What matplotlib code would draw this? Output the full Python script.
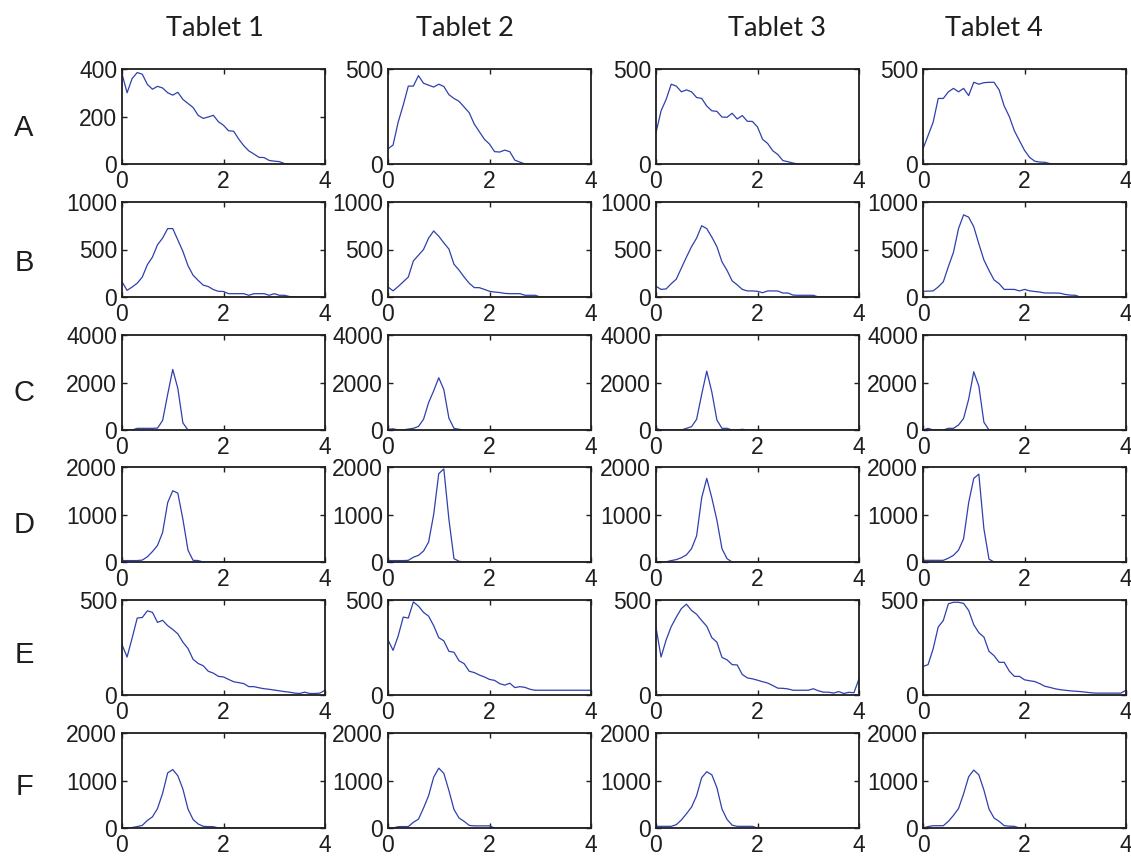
import numpy as np
import matplotlib
matplotlib.use("Agg")
import matplotlib.pyplot as plt

plt.rcParams["font.family"] = ["Liberation Sans", "DejaVu Sans"]

# ---------------- data ----------------
X = np.linspace(0, 4, 41)
tablets = ["Tablet 1", "Tablet 2", "Tablet 3", "Tablet 4"]
rows = ["A", "B", "C", "D", "E", "F"]

A_t1 = [380, 300, 360, 385, 378, 335, 315, 327, 320, 300,
        290, 302, 272, 255, 238, 205, 192, 198, 205, 178,
        163, 140, 138, 105, 77, 55, 42, 28, 27, 15,
        12, 10, 2]
A_t2 = [80, 100, 220, 310, 410, 410, 465, 425, 415, 405,
        420, 408, 365, 345, 330, 300, 270, 210, 170, 130,
        105, 65, 63, 73, 65, 20, 10]
A_t3 = [165, 280, 340, 420, 410, 380, 390, 380, 350, 345,
        305, 280, 277, 247, 246, 267, 237, 255, 225, 224,
        195, 130, 108, 70, 50, 18, 12, 5]
A_t4 = [80, 150, 220, 345, 345, 380, 398, 380, 398, 360,
        430, 420, 428, 430, 430, 390, 305, 250, 175, 123,
        72, 35, 15, 10, 9, 2]

B_t1 = [160, 70, 105, 145, 210, 340, 420, 550, 620, 720,
        720, 600, 480, 330, 230, 175, 125, 110, 78, 60,
        58, 35, 35, 35, 35, 18, 35, 35, 35, 18,
        35, 18, 18, 5]
B_t2 = [105, 65, 110, 160, 210, 380, 440, 500, 620, 695,
        640, 570, 505, 345, 283, 210, 145, 99, 98, 80,
        60, 52, 47, 38, 35, 35, 35, 18, 18, 18]
B_t3 = [113, 80, 85, 140, 188, 305, 420, 530, 620, 750,
        720, 630, 530, 370, 280, 170, 128, 80, 64, 64,
        60, 45, 64, 64, 63, 42, 42, 20, 18, 18,
        18, 18]
B_t4 = [60, 62, 64, 106, 160, 320, 470, 720, 865, 840,
        740, 560, 390, 280, 180, 140, 80, 80, 80, 64,
        80, 65, 58, 52, 42, 42, 42, 40, 27, 20,
        18]

C_t1 = [0, 0, 0, 70, 70, 70, 70, 80, 400, 1500,
        2550, 1750, 300]
C_t2 = [30, 50, 0, 0, 40, 70, 150, 450, 1150, 1650,
        2200, 1700, 500, 70, 30]
C_t3 = [70, 0, 0, 0, 0, 0, 70, 140, 450, 1500,
        2480, 1600, 420, 70, 70, 0, 0, 30]
C_t4 = [0, 70, 0, 0, 0, 70, 70, 210, 490, 1300,
        2450, 1850, 330]

D_t1 = [30, 30, 30, 30, 40, 110, 220, 350, 620, 1250,
        1500, 1450, 900, 250, 35, 30]
D_t2 = [30, 30, 30, 30, 35, 100, 140, 230, 420, 1000,
        1860, 1960, 900, 70, 15]
D_t3 = [0, 0, 5, 30, 50, 90, 150, 280, 550, 1350,
        1760, 1350, 880, 280, 70]
D_t4 = [35, 35, 35, 35, 35, 80, 140, 250, 490, 1250,
        1760, 1850, 700, 60]

E_t1 = [265, 200, 300, 405, 408, 443, 435, 382, 393, 365,
        345, 322, 278, 245, 188, 166, 154, 125, 115, 98,
        95, 82, 70, 65, 60, 44, 44, 38, 33, 30,
        26, 22, 18, 15, 10, 8, 15, 8, 8, 10, 25]
E_t2 = [290, 235, 310, 410, 405, 490, 468, 435, 415, 365,
        302, 285, 230, 225, 180, 165, 125, 118, 105, 95,
        82, 77, 60, 52, 62, 39, 44, 40, 30, 25,
        25, 25, 25, 25, 25, 25, 25, 25, 25, 25, 25]
E_t3 = [355, 200, 290, 360, 410, 455, 478, 445, 425, 392,
        362, 302, 278, 198, 185, 160, 158, 108, 90, 85,
        78, 70, 63, 50, 36, 35, 32, 25, 25, 25,
        25, 33, 22, 15, 15, 10, 18, 8, 14, 12, 85]
E_t4 = [150, 160, 243, 358, 392, 480, 488, 488, 482, 445,
        370, 328, 305, 230, 207, 172, 172, 126, 98, 98,
        80, 75, 71, 60, 46, 40, 33, 28, 25, 22,
        20, 18, 15, 12, 10, 10, 10, 10, 10, 10, 25]

F_t1 = [0, 0, 10, 30, 55, 160, 235, 410, 730, 1160,
        1230, 1100, 820, 400, 180, 85, 35, 30, 28]
F_t2 = [0, 0, 28, 30, 30, 120, 185, 420, 680, 1070,
        1260, 1150, 790, 390, 210, 140, 55, 45, 45, 45,
        45]
F_t3 = [35, 35, 35, 35, 70, 170, 300, 440, 680, 1060,
        1185, 1120, 850, 400, 180, 60, 35, 35, 35, 35]
F_t4 = [0, 30, 48, 48, 48, 140, 265, 410, 720, 1080,
        1220, 1120, 800, 400, 210, 140, 50, 38, 35]

ymax = {"A": [400, 500, 500, 500], "B": [1000] * 4, "C": [4000] * 4,
        "D": [2000] * 4, "E": [500] * 4, "F": [2000] * 4}
yticks = {"A": [[0, 200, 400], [0, 500], [0, 500], [0, 500]],
          "B": [[0, 500, 1000]] * 4, "C": [[0, 2000, 4000]] * 4,
          "D": [[0, 1000, 2000]] * 4, "E": [[0, 500]] * 4,
          "F": [[0, 1000, 2000]] * 4}
xticks = [0, 2, 4]

series = {"A": [A_t1, A_t2, A_t3, A_t4], "B": [B_t1, B_t2, B_t3, B_t4],
          "C": [C_t1, C_t2, C_t3, C_t4], "D": [D_t1, D_t2, D_t3, D_t4],
          "E": [E_t1, E_t2, E_t3, E_t4], "F": [F_t1, F_t2, F_t3, F_t4]}


def full(v):
    return list(v) + [0] * (len(X) - len(v))


# ---------------- layout ----------------
W, H = 1131, 856
fig = plt.figure(figsize=(W / 100, H / 100), dpi=100)
fig.patch.set_facecolor("white")

col_left = [122, 388, 656, 923]
ax_w = 203
ax_h = 95
row_top = [69, 202, 335, 467, 600, 733]

line_color = "#2f40ac"
ink = "#1e1e1e"

for r, rname in enumerate(rows):
    for c in range(4):
        left = col_left[c] / W
        bottom = 1 - (row_top[r] + ax_h) / H
        ax = fig.add_axes([left, bottom, ax_w / W, ax_h / H])
        ax.plot(X, full(series[rname][c]), color=line_color, lw=0.9)
        ax.set_xlim(0, 4)
        ax.set_ylim(0, ymax[rname][c])
        ax.set_xticks(xticks)
        ax.set_yticks(yticks[rname][c])
        ax.tick_params(direction="in", length=3.5, width=1.0,
                       top=True, right=True, labelsize=16.5,
                       colors=ink)
        ax.tick_params(axis="x", pad=4.5)
        ax.tick_params(axis="y", pad=3.5)
        for sp in ax.spines.values():
            sp.set_linewidth(1.3)
            sp.set_color(ink)

# row labels
row_label_y = [128, 263, 393, 525, 655, 787]
for rname, yy in zip(rows, row_label_y):
    fig.text(24 / W, 1 - yy / H, rname, ha="center", va="center",
             fontsize=21, color=ink)

# column titles
title_x = [215, 465, 777, 994]
for t, xx in zip(tablets, title_x):
    fig.text(xx / W, 1 - 28 / H, t, ha="center", va="center",
             fontsize=19.5, family=["Lato", "DejaVu Sans"], color=ink)

fig.savefig("out.png", dpi=100, facecolor="white")
